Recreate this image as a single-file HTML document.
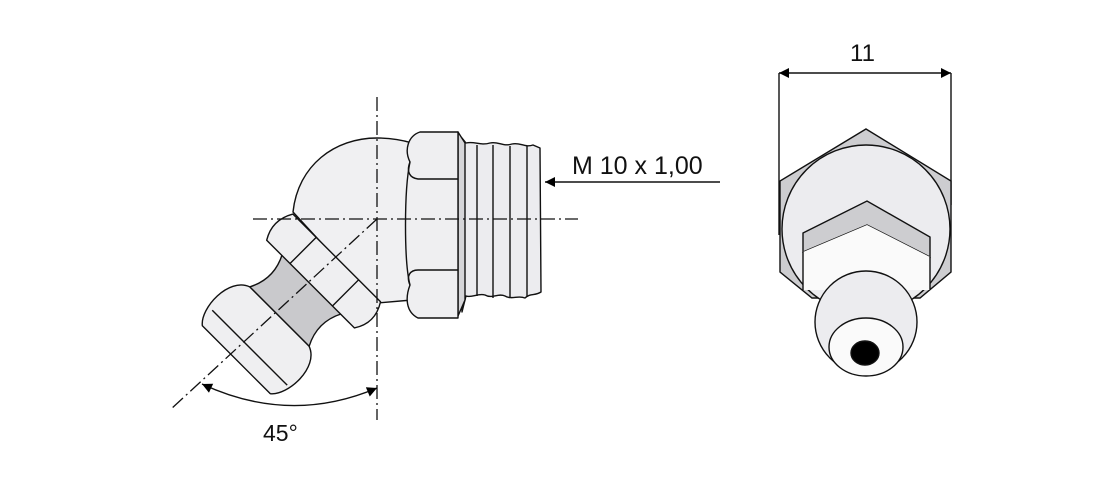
<!DOCTYPE html>
<html><head><meta charset="utf-8"><style>
html,body{margin:0;padding:0;background:#fff}
svg{display:block}
text{font-family:"Liberation Sans",sans-serif;fill:#111}
</style></head><body>
<svg width="1116" height="489" viewBox="0 0 1116 489" xmlns="http://www.w3.org/2000/svg">
<defs>
<marker id="ar" viewBox="0 0 10 10" refX="10" refY="5" markerWidth="12" markerHeight="10" orient="auto-start-reverse" markerUnits="userSpaceOnUse"><path d="M0,0 L10,5 L0,10 Z" fill="#000"/></marker>
</defs>
<g stroke="#111" stroke-width="1.4" stroke-linejoin="round">
<path d="M293,212 C298,165 335,138 377,138 C392,138 402,140 412,143 L412,300 L377,303 Z" fill="#f0f0f2"/>
<path d="M462,138 L466,143 C475,141 480,146 490,143 C498,141 503,147 512,144 C520,142 525,148 533,145 L540,148 L541,292 C535,296 530,293 525,298 C518,295 512,300 505,296 C498,293 492,299 485,295 C478,293 472,298 466,296 L462,312 Z" fill="#ececef"/>
<path d="M477,145 L477,296 M493,145 L493,298 M510,146 L510,298 M527,146 L527,297" fill="none"/>
<path d="M458,132 L465,143 L465,300 L458,316 Z" fill="#d5d5d8"/>
<path d="M420,132 L458,132 L458,318 L418,318 C406,312 405,298 410,285 C404,262 404,190 410,162 C404,150 408,136 420,132 Z" fill="#efeff1"/>
<path d="M410,162 C406,172 410,178 418,179 L458,179 M410,285 C406,276 410,270 418,270 L458,270" fill="none"/>
<g transform="translate(377,219) rotate(45)">
<path d="M-42,92 Q-30,115 -42,138 L42,138 Q30,115 42,92 Z" fill="#c9c9cc"/>
<path d="M-42,138 C-64,146 -62,188 -48,199 L48,199 C62,188 64,146 42,138 Z" fill="#efeff1"/>
<path d="M-52,181 L54,181" fill="none"/>
<path d="M-63,56 L61,56 Q73,75 61,93 L-63,93 Q-74,75 -63,56 Z" fill="#efeff1"/>
<path d="M-30,56 L-30,93 M30,56 L30,93" fill="none"/>
</g>
</g>
<g stroke="#111" stroke-width="1.3" stroke-dasharray="14 4 2 4" fill="none">
<path d="M377,97 L377,420"/>
<path d="M253,219 L578,219"/>
<path d="M377,219 L170,410"/>
</g>
<path d="M202,384 Q290,425 377,388" fill="none" stroke="#111" stroke-width="1.4" marker-start="url(#ar)" marker-end="url(#ar)"/>
<text x="263" y="441" font-size="23">45°</text>
<path d="M720,182 L545,182" stroke="#111" stroke-width="1.4" marker-end="url(#ar)"/>
<text x="572" y="174" font-size="25">M 10 x 1,00</text>
<g stroke="#111" stroke-width="1.4">
<path d="M779,73 L951,73" marker-start="url(#ar)" marker-end="url(#ar)"/>
<path d="M779,73 L779,235 M951,73 L951,205" fill="none"/>
<path d="M866,129 L951,181 L951,272 L920,298 L812,298 L780,272 L780,181 Z" fill="#cdcdd0"/>
<circle cx="866" cy="229" r="84" fill="#ececef"/>
<path d="M803,233 L867,201 L930,237 L930,257 L867,225 L803,252 Z" fill="#cdcdd0"/>
<path d="M803,252 L867,225 L930,257 L930,290 L803,290 Z" fill="#fafafa" stroke="none"/>
<path d="M803,252 L803,290 M930,257 L930,290" fill="none"/>
<circle cx="866" cy="322" r="51" fill="#ececef"/>
<ellipse cx="866" cy="347" rx="37" ry="29" fill="#fafafa"/>
<ellipse cx="865" cy="353" rx="14" ry="12" fill="#000"/>
</g>
<text x="850" y="61" font-size="24">11</text>
</svg>
</body></html>
